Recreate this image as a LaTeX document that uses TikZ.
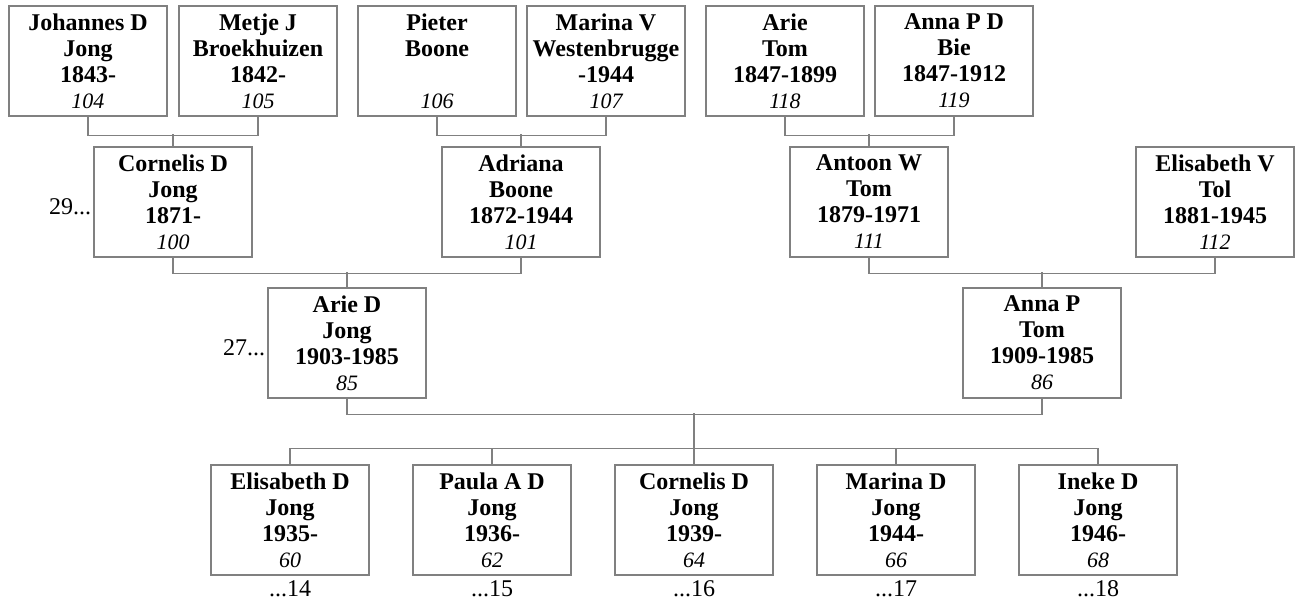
\documentclass[tikz,border=0pt]{standalone}
\usepackage{fontspec}
\setmainfont{Liberation Serif}
\definecolor{linegray}{RGB}{128,128,128}
\newcommand{\pnum}[1]{{\fontsize{11}{13}\selectfont\mdseries\itshape #1}}
\begin{document}
\begin{tikzpicture}[
    x=0.5pt, y=-0.5pt,
    person/.style={%
      draw=linegray,
      rectangle,
      line width=0.6pt,
      minimum width=79pt,
      minimum height=55pt,
      inner sep=0pt,
      align=center,
      font=\fontsize{12}{13}\selectfont\bfseries,
    },
    link/.style={draw=linegray, line width=0.6pt},
    gen/.style={inner sep=1pt, font=\fontsize{12}{13}\selectfont},
  ]
  \useasboundingbox (0,0) rectangle (1296,604);
  % great-grandparents
  \node [person] (johannes) at (88,61) {Johannes D\\Jong\\1843-\\\pnum{104}};
  \node [person] (metje) at (258,61) {Metje J\\Broekhuizen\\1842-\\\pnum{105}};
  \node [person] (pieter) at (437,61) {Pieter\\Boone\\\mbox{}\\\pnum{106}};
  \node [person] (marinaV) at (606,61) {Marina V\\Westenbrugge\\-1944\\\pnum{107}};
  \node [person] (arieT) at (785,61) {Arie\\Tom\\1847-1899\\\pnum{118}};
  \node [person] (annaB) at (954,61) {Anna P D\\Bie\\1847-1912\\\pnum{119}};
  % grandparents
  \node [person] (cornelis) at (173,202) {Cornelis D\\Jong\\1871-\\\pnum{100}};
  \node [person] (adriana) at (521,202) {Adriana\\Boone\\1872-1944\\\pnum{101}};
  \node [person] (antoon) at (869,202) {Antoon W\\Tom\\1879-1971\\\pnum{111}};
  \node [person] (elisabethV) at (1215,202) {Elisabeth V\\Tol\\1881-1945\\\pnum{112}};
  % parents
  \node [person] (arieD) at (347,343) {Arie D\\Jong\\1903-1985\\\pnum{85}};
  \node [person] (annaP) at (1042,343) {Anna P\\Tom\\1909-1985\\\pnum{86}};
  % children
  \node [person] (elisabethD) at (290,520) {Elisabeth D\\Jong\\1935-\\\pnum{60}};
  \node [person] (paula) at (492,520) {Paula A D\\Jong\\1936-\\\pnum{62}};
  \node [person] (cornelisJ) at (694,520) {Cornelis D\\Jong\\1939-\\\pnum{64}};
  \node [person] (marinaD) at (896,520) {Marina D\\Jong\\1944-\\\pnum{66}};
  \node [person] (ineke) at (1098,520) {Ineke D\\Jong\\1946-\\\pnum{68}};
  % generation references
  \node [gen, anchor=east] (g29) at ([yshift=-2.5pt]cornelis.west) {29...};
  \node [gen, anchor=east] (g27) at ([yshift=-2.5pt]arieD.west) {27...};
  \node [gen, anchor=north] (g14) at ([yshift=-1.5pt]elisabethD.south) {...14};
  \node [gen, anchor=north] (g15) at ([yshift=-1.5pt]paula.south) {...15};
  \node [gen, anchor=north] (g16) at ([yshift=-1.5pt]cornelisJ.south) {...16};
  \node [gen, anchor=north] (g17) at ([yshift=-1.5pt]marinaD.south) {...17};
  \node [gen, anchor=north] (g18) at ([yshift=-1.5pt]ineke.south) {...18};
  % couples and their child
  \draw [link] (johannes.south) -- ++(0,19) -| (metje.south);
  \draw [link] (cornelis.north) -- ++(0,-12);
  \draw [link] (pieter.south) -- ++(0,19) -| (marinaV.south);
  \draw [link] (adriana.north) -- ++(0,-12);
  \draw [link] (arieT.south) -- ++(0,19) -| (annaB.south);
  \draw [link] (antoon.north) -- ++(0,-12);
  \draw [link] (cornelis.south) -- ++(0,16) -| (adriana.south);
  \draw [link] (arieD.north) -- ++(0,-15);
  \draw [link] (antoon.south) -- ++(0,16) -| (elisabethV.south);
  \draw [link] (annaP.north) -- ++(0,-15);
  \draw [link] (arieD.south) -- ++(0,16) -| (annaP.south);
  \draw [link] (cornelisJ.north) -- ++(0,-51);
  \draw [link] (elisabethD.north) -- ++(0,-16) -| (ineke.north);
  \foreach \c in {paula,marinaD}
    \draw [link] (\c.north) -- ++(0,-16);
\end{tikzpicture}
\end{document}
